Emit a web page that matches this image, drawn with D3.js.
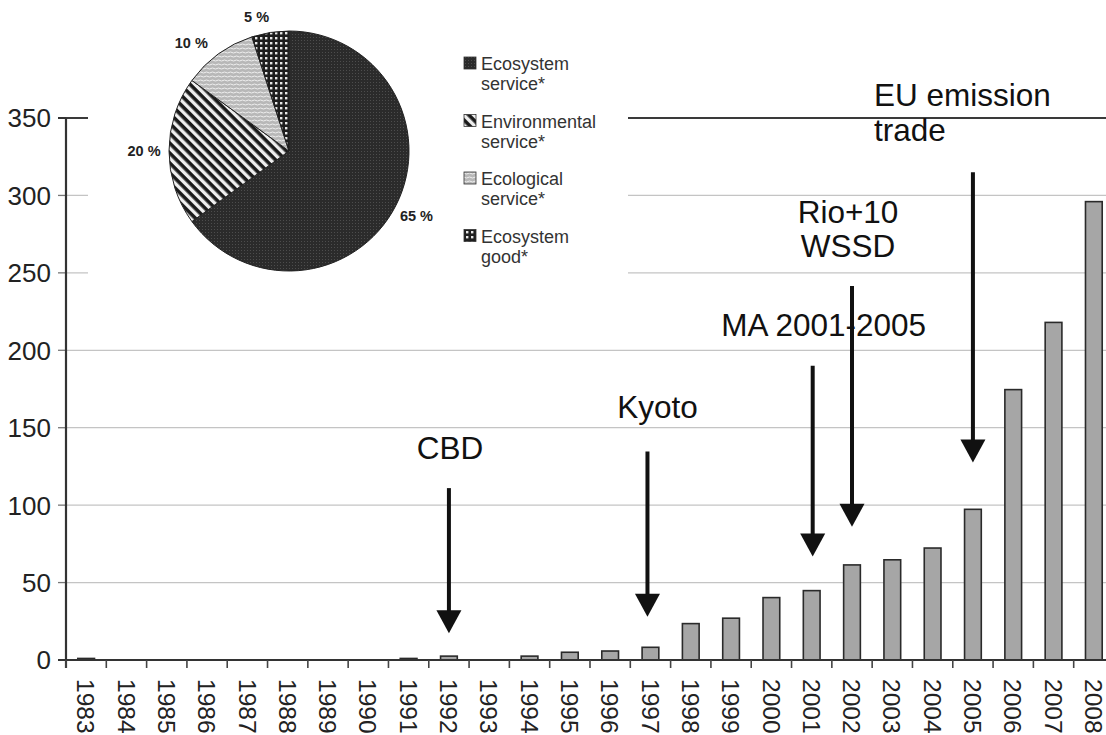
<!DOCTYPE html>
<html>
<head>
<meta charset="utf-8">
<script src="https://cdn.jsdelivr.net/npm/d3@7"></script>
<style>
  html, body { margin: 0; padding: 0; background: #fff; overflow: hidden; }
  svg { display: block; font-family: "Liberation Sans", Arial, sans-serif; }
</style>
</head>
<body>
<svg id="chart" width="1106" height="735"></svg>
<script>
// ---------- data ----------
const years = ["1983","1984","1985","1986","1987","1988","1989","1990","1991","1992","1993","1994","1995",
               "1996","1997","1998","1999","2000","2001","2002","2003","2004","2005","2006","2007","2008"];
const counts = [1, 0, 0, 0, 0, 0, 0, 0, 1, 2.5, 0, 2.5, 5, 5.8, 8.2, 23.5, 27, 40.3, 44.8, 61.4, 64.7, 72.3, 97.3, 174.6, 218, 296];
const yTicks = [0, 50, 100, 150, 200, 250, 300, 350];

const pieShares = [65, 20, 10, 5];
const pieLabels = ["65 %", "20 %", "10 %", "5 %"];
const legendLines = [["Ecosystem", "service*"], ["Environmental", "service*"], ["Ecological", "service*"], ["Ecosystem", "good*"]];

// events: label lines, year, arrow start value, arrow tip value, label baseline value
const eventLabels = [["CBD"], ["Kyoto"], ["MA 2001-2005"], ["Rio+10", "WSSD"], ["EU emission", "trade"]];
const eventYears = ["1992", "1997", "2001", "2002", "2005"];
const arrowFrom = [111, 134.7, 190, 241.5, 315];
const arrowTo = [17.3, 28, 66.8, 86, 127.6];
const labelValue = [130, 156.5, 209, 282.5, 358];

// ---------- layout ----------
const svg = d3.select("#chart");
const W = 1106, H = 735;
const x = d3.scaleBand().domain(years).range([66, 1114]).paddingInner(0.585).paddingOuter(0.2925);
const y = d3.scaleLinear().domain([0, 350]).range([660, 118]);
const xStep = x.step();

// defs: patterns
const defs = svg.append("defs");
const pDark = defs.append("pattern").attr("id", "pDark").attr("patternUnits", "userSpaceOnUse").attr("width", 3).attr("height", 3);
pDark.append("rect").attr("width", 3).attr("height", 3).attr("fill", "#2b2b2b");
pDark.append("rect").attr("x", 0).attr("y", 0).attr("width", 1).attr("height", 1).attr("fill", "#4d4d4d");

const pStripe = defs.append("pattern").attr("id", "pStripe").attr("patternUnits", "userSpaceOnUse")
  .attr("width", 7).attr("height", 7).attr("patternTransform", "rotate(45)");
pStripe.append("rect").attr("width", 7).attr("height", 7).attr("fill", "#eee");
pStripe.append("rect").attr("width", 7).attr("height", 3.6).attr("fill", "#1a1a1a");

const pLight = defs.append("pattern").attr("id", "pLight").attr("patternUnits", "userSpaceOnUse").attr("width", 6).attr("height", 4);
pLight.append("rect").attr("width", 6).attr("height", 4).attr("fill", "#b8b8b8");
pLight.append("path").attr("d", "M0,1.5 Q1.5,0.5 3,1.5 T6,1.5").attr("fill", "none").attr("stroke", "#eee").attr("stroke-width", 1);

const pCheck = defs.append("pattern").attr("id", "pCheck").attr("patternUnits", "userSpaceOnUse").attr("width", 5).attr("height", 5);
pCheck.append("rect").attr("width", 5).attr("height", 5).attr("fill", "#1e1e1e");
pCheck.append("rect").attr("x", 1).attr("y", 1).attr("width", 2.4).attr("height", 2.4).attr("fill", "#e8e8e8");

const fills = ["url(#pDark)", "url(#pStripe)", "url(#pLight)", "url(#pCheck)"];

// ---------- gridlines ----------
svg.append("g").selectAll("line").data(yTicks.filter(v => v > 0)).join("line")
  .attr("x1", 66).attr("x2", W)
  .attr("y1", d => y(d)).attr("y2", d => y(d))
  .attr("stroke", d => d === 350 ? "#3a3a3a" : "#c4c4c4")
  .attr("stroke-width", d => d === 350 ? 2.2 : 1.3);

// y ticks (left of axis)
svg.append("g").selectAll("line").data(yTicks).join("line")
  .attr("x1", 58).attr("x2", 66)
  .attr("y1", d => y(d)).attr("y2", d => y(d))
  .attr("stroke", d => (d === 350 || d === 0) ? "#333" : "#777")
  .attr("stroke-width", d => (d === 350 || d === 0) ? 2 : 1.3);

// y labels
svg.append("g").selectAll("text").data(yTicks).join("text")
  .attr("x", 51).attr("y", d => y(d))
  .attr("dy", "0.36em")
  .attr("text-anchor", "end")
  .attr("font-size", 26)
  .attr("fill", "#222")
  .text(d => d);

// ---------- bars ----------
svg.append("g").selectAll("rect").data(years).join("rect")
  .attr("x", d => x(d))
  .attr("width", x.bandwidth())
  .attr("y", (d, i) => y(counts[i]))
  .attr("height", (d, i) => y(0) - y(counts[i]))
  .attr("fill", "#a6a6a6")
  .attr("stroke", "#2a2a2a")
  .attr("stroke-width", 1.6)
  .style("display", (d, i) => counts[i] > 0 ? null : "none");

// ---------- axes ----------
svg.append("line").attr("x1", 66).attr("x2", 66).attr("y1", y(350)).attr("y2", y(0) + 8)
  .attr("stroke", "#333").attr("stroke-width", 2.2);
svg.append("line").attr("x1", 58).attr("x2", W).attr("y1", y(0)).attr("y2", y(0))
  .attr("stroke", "#333").attr("stroke-width", 2.2);
// x ticks at band boundaries
svg.append("g").selectAll("line").data(years).join("line")
  .attr("x1", d => x(d) - (xStep - x.bandwidth()) / 2)
  .attr("x2", d => x(d) - (xStep - x.bandwidth()) / 2)
  .attr("y1", y(0)).attr("y2", y(0) + 8)
  .attr("stroke", "#444").attr("stroke-width", 1.6);
// x labels (rotated, reading downward)
svg.append("g").selectAll("text").data(years).join("text")
  .attr("transform", d => `translate(${x(d) + x.bandwidth() / 2},${y(0) + 19}) rotate(90)`)
  .attr("dy", "0.36em")
  .attr("font-size", 24.5)
  .attr("fill", "#222")
  .text(d => d);

// ---------- events / arrows ----------
const ev = svg.append("g");
const arrowDx = [0, -3, 1, 0, 0];
eventYears.forEach((yr, i) => {
  const cx = x(yr) + x.bandwidth() / 2 + arrowDx[i];
  const top = y(arrowFrom[i]), tip = y(arrowTo[i]);
  const headH = 23, headW = 12.5;
  ev.append("line").attr("x1", cx).attr("x2", cx).attr("y1", top).attr("y2", tip - headH + 2)
    .attr("stroke", "#111").attr("stroke-width", 4);
  ev.append("path").attr("d", `M${cx - headW},${tip - headH} L${cx + headW},${tip - headH} L${cx},${tip} Z`)
    .attr("fill", "#111");
});
// labels
const labelDx = [1, 7, 12, -4, -99];
const labelAnchor = ["middle", "middle", "middle", "middle", "start"];
const labelLineGap = [0, 0, 0, 34, 35];
eventYears.forEach((yr, i) => {
  const cx = x(yr) + x.bandwidth() / 2 + labelDx[i];
  eventLabels[i].forEach((t, j) => {
    ev.append("text")
      .attr("x", cx).attr("y", y(labelValue[i]) + j * labelLineGap[i])
      .attr("text-anchor", labelAnchor[i])
      .attr("font-size", 31.5)
      .attr("fill", "#111")
      .text(t);
  });
});

// ---------- inset pie ----------
const inset = svg.append("g");
inset.append("rect").attr("x", 88).attr("y", 0).attr("width", 540).attr("height", 285).attr("fill", "#fff");
const pc = { x: 289, y: 151, r: 120 };
const pie = d3.pie().sort(null).value(d => d)(pieShares);
const arc = d3.arc().innerRadius(0).outerRadius(pc.r);
const pg = inset.append("g").attr("transform", `translate(${pc.x},${pc.y})`);
pg.selectAll("path").data(pie).join("path")
  .attr("d", arc)
  .attr("fill", (d, i) => fills[i])
  .attr("stroke", "#222").attr("stroke-width", 1);
// label placement: radius and angular nudge per slice
const labelR = [143, 145, 146, 138];
const labelNudge = [0, 0, -0.105, -0.08];
pg.selectAll("text").data(pie).join("text")
  .attr("transform", (d, i) => {
    const a = (d.startAngle + d.endAngle) / 2 + labelNudge[i];
    return `translate(${labelR[i] * Math.sin(a)},${-labelR[i] * Math.cos(a)})`;
  })
  .attr("text-anchor", "middle").attr("dy", "0.35em")
  .attr("font-size", 14.5).attr("font-weight", "bold").attr("fill", "#222")
  .text((d, i) => pieLabels[i]);

// legend
const lg = inset.append("g");
legendLines.forEach((lines, i) => {
  const top = 57 + i * 57.5;
  lg.append("rect").attr("x", 464).attr("y", top).attr("width", 12).attr("height", 12)
    .attr("fill", fills[i]).attr("stroke", "#333").attr("stroke-width", 0.8);
  lines.forEach((t, j) => {
    lg.append("text").attr("x", 481).attr("y", top + 13 + j * 20)
      .attr("font-size", 18).attr("fill", "#333").text(t);
  });
});
</script>
</body>
</html>
